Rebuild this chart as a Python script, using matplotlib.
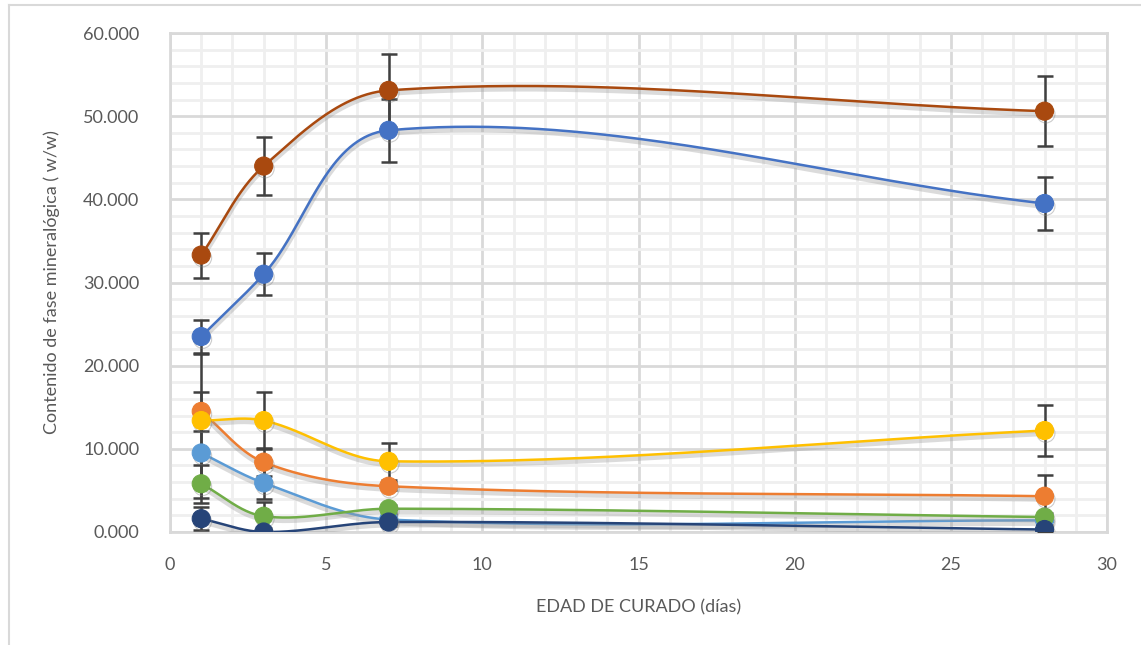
import numpy as np
import matplotlib
matplotlib.use("Agg")
import matplotlib.pyplot as plt
import matplotlib.patheffects as pe
from matplotlib.ticker import MultipleLocator, FuncFormatter

plt.rcParams['font.family'] = ['Lato', 'DejaVu Sans']

# curing age (days)
dias = [1, 3, 7, 28]

# mineral phase content (w/w) per series, with error bar half-widths
serie_marron = [33.3, 44.0, 53.1, 50.6]
err_marron = [2.7, 3.5, 4.4, 4.2]
serie_azul = [23.5, 31.0, 48.3, 39.5]
err_azul = [2.0, 2.5, 3.8, 3.2]
serie_naranja = [14.5, 8.4, 5.5, 4.3]
err_naranja = [2.3, 1.7, 0.5, 2.5]
serie_amarilla = [13.4, 13.4, 8.5, 12.2]
err_amarilla = [8.0, 3.4, 2.2, 3.1]
serie_celeste = [9.5, 5.9, 1.5, 1.4]
err_celeste = [5.4, 1.9, 0.5, 0.5]
serie_verde = [5.8, 1.9, 2.8, 1.8]
err_verde = [2.3, 1.7, 0.5, 0.5]
serie_marino = [1.6, 0.0, 1.2, 0.3]
err_marino = [1.4, 0.5, 0.5, 0.3]

# drawing order (last one on top)
series = [
    (serie_celeste, err_celeste, '#5B9BD5'),
    (serie_verde, err_verde, '#70AD47'),
    (serie_marino, err_marino, '#264478'),
    (serie_naranja, err_naranja, '#ED7D31'),
    (serie_amarilla, err_amarilla, '#FFC000'),
    (serie_azul, err_azul, '#4472C4'),
    (serie_marron, err_marron, '#A9490F'),
]

# pixels per data unit on the plot (used so smoothing behaves like on screen)
ESC_X = (1107 - 170) / 30
ESC_Y = (532 - 33) / 60


def suavizar(xs, ys, n=80):
    # smoothed line: cardinal-type Bezier, tangents scaled to each segment length
    p = np.column_stack([np.array(xs) * ESC_X, np.array(ys) * ESC_Y]).astype(float)
    m = len(p)
    tang = []
    for i in range(m):
        a = p[max(i - 1, 0)]
        b = p[min(i + 1, m - 1)]
        d = b - a
        tang.append(d / np.linalg.norm(d))
    t = np.linspace(0, 1, n)[:, None]
    trozos = []
    for i in range(m - 1):
        p1, p2 = p[i], p[i + 1]
        L = np.linalg.norm(p2 - p1) / 3
        c1 = p1 + tang[i] * L
        c2 = p2 - tang[i + 1] * L
        b = ((1 - t) ** 3) * p1 + 3 * ((1 - t) ** 2) * t * c1 \
            + 3 * (1 - t) * t ** 2 * c2 + t ** 3 * p2
        trozos.append(b)
    c = np.vstack(trozos)
    return c[:, 0] / ESC_X, c[:, 1] / ESC_Y


fig = plt.figure(figsize=(11.41, 6.45), dpi=100)
ax = fig.add_axes([170 / 1141, 1 - 532 / 645, (1107 - 170) / 1141, (532 - 33) / 645])

# outer chart border (left and top edges visible)
fig.add_artist(plt.Line2D([9 / 1141, 9 / 1141], [0, 1 - 5 / 645],
                          transform=fig.transFigure, color='#D9D9D9', lw=1.5))
fig.add_artist(plt.Line2D([9 / 1141, 1], [1 - 5 / 645, 1 - 5 / 645],
                          transform=fig.transFigure, color='#D9D9D9', lw=1.5))

sombra = [pe.SimpleLineShadow(offset=(0, -2), shadow_color='#9a9a9a', alpha=0.35, linewidth=4),
          pe.Normal()]

for ys, es, col in series:
    sx, sy = suavizar(dias, ys)
    ax.plot(sx, sy, color=col, lw=1.8, zorder=3, path_effects=sombra)

for ys, es, col in series:
    ax.errorbar(dias, ys, yerr=es, fmt='none', ecolor='#404040', elinewidth=1.8,
                capsize=6, capthick=1.8, zorder=4)

for ys, es, col in series:
    ax.plot(dias, ys, linestyle='none', marker='o', markersize=13,
            markerfacecolor=col, markeredgecolor=col, markeredgewidth=0.8, zorder=5,
            path_effects=[pe.SimpleLineShadow(offset=(1, -2), shadow_color='#808080', alpha=0.4),
                          pe.Normal()])

ax.set_xlim(0, 30)
ax.set_ylim(0, 60)
ax.xaxis.set_major_locator(MultipleLocator(5))
ax.xaxis.set_minor_locator(MultipleLocator(1))
ax.yaxis.set_major_locator(MultipleLocator(10))
ax.yaxis.set_minor_locator(MultipleLocator(2))
ax.yaxis.set_major_formatter(FuncFormatter(lambda v, p: f"{v:.3f}"))

ax.grid(which='major', color='#D9D9D9', lw=2, zorder=0)
ax.grid(which='minor', color='#EFEFEF', lw=2, zorder=0)
ax.set_axisbelow(True)
for s in ax.spines.values():
    s.set_color('#D9D9D9')
    s.set_linewidth(2)

ax.tick_params(which='both', length=0)
ax.tick_params(axis='y', pad=22, labelsize=13, labelcolor='#595959')
ax.tick_params(axis='x', pad=18, labelsize=13, labelcolor='#595959')

ax.set_xlabel('EDAD DE CURADO (días)', fontsize=13, color='#595959', labelpad=19)
ax.set_ylabel('Contenido de fase mineralógica ( w/w)', fontsize=13, color='#595959', labelpad=17)

fig.savefig('out.png', dpi=100, facecolor='white')
